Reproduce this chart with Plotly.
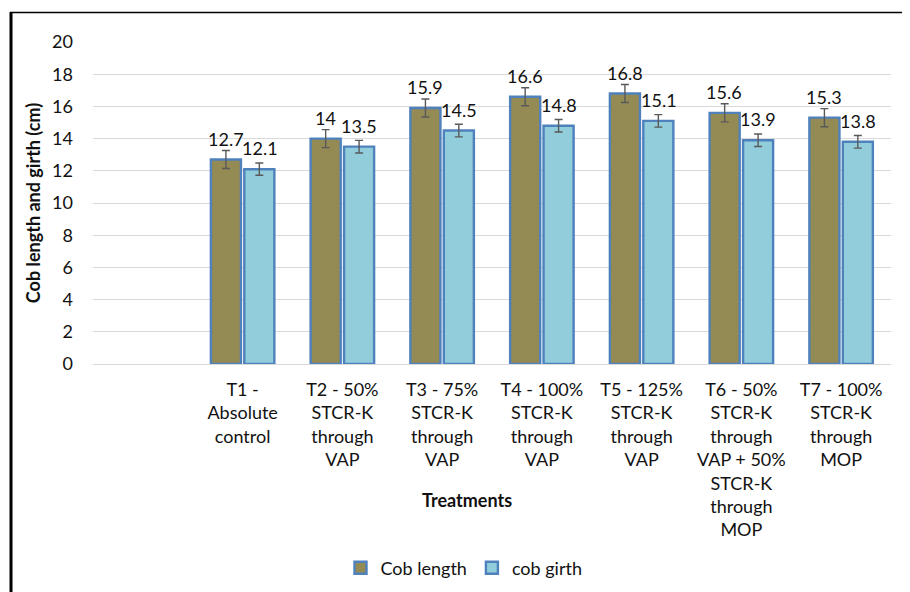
import plotly.graph_objects as go

categories = ["T1", "T2", "T3", "T4", "T5", "T6", "T7"]
tick_labels = [
    "T1 -<br>Absolute<br>control",
    "T2 - 50%<br>STCR-K<br>through<br>VAP",
    "T3 - 75%<br>STCR-K<br>through<br>VAP",
    "T4 - 100%<br>STCR-K<br>through<br>VAP",
    "T5 - 125%<br>STCR-K<br>through<br>VAP",
    "T6 - 50%<br>STCR-K<br>through<br>VAP + 50%<br>STCR-K<br>through<br>MOP",
    "T7 - 100%<br>STCR-K<br>through<br>MOP",
]
cob_length = [12.7, 14.0, 15.9, 16.6, 16.8, 15.6, 15.3]
cob_length_err = [0.56, 0.56, 0.56, 0.56, 0.56, 0.56, 0.56]
cob_girth = [12.1, 13.5, 14.5, 14.8, 15.1, 13.9, 13.8]
cob_girth_err = [0.38, 0.39, 0.39, 0.39, 0.39, 0.39, 0.39]

FONT = "Lato"
TXT = "#111111"
OFF = 8  # page offset of the figure inside the browser window
W, H = 910 - OFF, 592 - OFF
ML, MR, MT, MB = 93 - OFF, 19, 42 - OFF, 592 - 364

fig = go.Figure()
fig.add_trace(go.Bar(
    name="Cob length", x=categories, y=cob_length,
    marker=dict(color="#948A54", line=dict(color="#4F81BD", width=2.4)),
    error_y=dict(type="data", array=cob_length_err, visible=True,
                 color="#595959", thickness=1.4, width=4),
))
fig.add_trace(go.Bar(
    name="cob girth", x=categories, y=cob_girth,
    marker=dict(color="#92CDDC", line=dict(color="#4F81BD", width=2.4)),
    error_y=dict(type="data", array=cob_girth_err, visible=True,
                 color="#595959", thickness=1.4, width=4),
))

pw = W - ML - MR
ph = H - MT - MB
def px_x(p):  # p given in reference-screen pixels
    return (p - OFF - ML) / pw
def px_y(p):
    return (H - MB - (p - OFF)) / ph

annotations = []
for c, v in zip(categories, cob_length):
    annotations.append(dict(x=c, y=v, xref="x", yref="y", text=f"{v:g}",
                            showarrow=False, xshift=-17, yshift=8,
                            yanchor="bottom", font=dict(family=FONT, size=18, color=TXT)))
for c, v in zip(categories, cob_girth):
    annotations.append(dict(x=c, y=v, xref="x", yref="y", text=f"{v:g}",
                            showarrow=False, xshift=17, yshift=8,
                            yanchor="bottom", font=dict(family=FONT, size=18, color=TXT)))
annotations.append(dict(x=px_x(467), y=px_y(500), xref="paper", yref="paper",
                        text="<b>Treatments</b>", showarrow=False,
                        xanchor="center", yanchor="middle",
                        font=dict(family=FONT, size=18, color=TXT)))

shapes = [
    dict(type="line", xref="paper", yref="paper", x0=px_x(11), x1=px_x(11),
         y0=px_y(12), y1=px_y(600), line=dict(color="black", width=3)),
    dict(type="line", xref="paper", yref="paper", x0=px_x(10), x1=px_x(920),
         y0=px_y(12.5), y1=px_y(12.5), line=dict(color="black", width=1.5)),
]

fig.update_layout(
    width=W, height=H,
    margin=dict(l=ML, r=MR, t=MT, b=MB, autoexpand=False),
    paper_bgcolor="white", plot_bgcolor="white",
    barmode="group", bargap=0.33, bargroupgap=0.1,
    font=dict(family=FONT, size=18, color=TXT),
    showlegend=True,
    legend=dict(orientation="h", x=px_x(464), xanchor="center", y=px_y(568), yanchor="middle",
                font=dict(family=FONT, size=18, color=TXT), itemwidth=30,
                traceorder="normal"),
    annotations=annotations,
    shapes=shapes,
    xaxis=dict(
        type="category", categoryorder="array", categoryarray=categories,
        range=[-1.5, 6.5], tickvals=categories, ticktext=tick_labels,
        showgrid=False, showline=False, ticks="", tickangle=0, automargin=False,
        ticklabelstandoff=13,
        tickfont=dict(family=FONT, size=18, color=TXT),
    ),
    yaxis=dict(
        range=[0, 20], dtick=2, showgrid=True, gridcolor="#D9D9D9", gridwidth=1.3,
        zeroline=True, zerolinecolor="#D9D9D9", zerolinewidth=1.3,
        showline=False, ticks="", ticklabelstandoff=19, automargin=False,
        tickfont=dict(family=FONT, size=18, color=TXT),
        title=dict(text="<b>Cob length and girth (cm)</b>",
                   font=dict(family=FONT, size=18, color=TXT), standoff=6),
    ),
)

fig.write_html("out.html")
